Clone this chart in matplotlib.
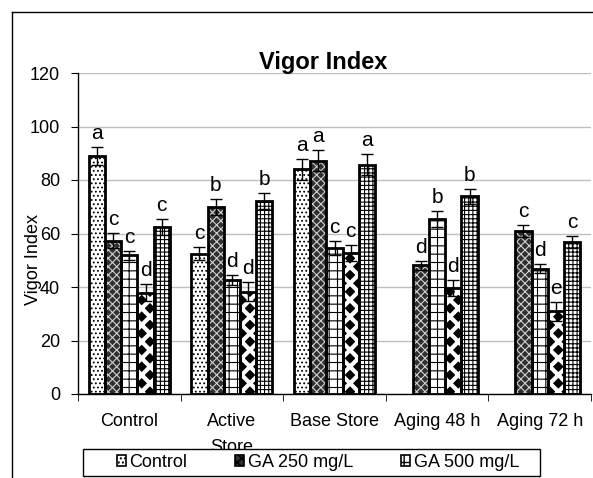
import numpy as np
import matplotlib.pyplot as plt
import matplotlib.patches as mpatches

plt.rcParams['font.family'] = ['Liberation Sans', 'DejaVu Sans']

# groups on the x axis
groups = ['Control', 'Active\nStore', 'Base Store', 'Aging 48 h', 'Aging 72 h']

# series (only the first three appear in the legend)
series_names = ['Control', 'GA 250 mg/L', 'GA 500 mg/L', '_s4', '_s5']

values = [
    [89, 52.5, 84, 0, 0],
    [57.3, 69.8, 87.2, 48.1, 60.9],
    [51.8, 42.7, 54.6, 65.4, 46.9],
    [37.9, 38.2, 52.8, 39.5, 30.9],
    [62.5, 72, 85.7, 73.9, 56.9],
]
errors = [
    [3.4, 2.5, 4, 0, 0],
    [2.8, 3, 4, 1.6, 2.3],
    [1.8, 1.9, 2.5, 2.9, 1.7],
    [3.3, 3.5, 3, 3, 3.6],
    [3, 3, 4, 2.9, 2.3],
]
letters = [
    ['a', 'c', 'a', '', ''],
    ['c', 'b', 'a', 'd', 'c'],
    ['c', 'd', 'c', 'b', 'd'],
    ['d', 'd', 'c', 'd', 'e'],
    ['c', 'b', 'a', 'b', 'c'],
]

# face colour, hatch, hatch colour, hatch linewidth
styles = [
    ('white', '....', 'black', 0.8),
    ('#303030', 'xxxx', '#d0d0d0', 0.8),
    ('white', '++', 'black', 0.8),
    ('black', 'xx', 'white', 3.0),
    ('white', '++++', 'black', 0.8),
]

fig = plt.figure(figsize=(5.93, 4.78), dpi=100)
ax = fig.add_axes([78 / 593, 1 - 394 / 478, 513 / 593, 321 / 478])

# outer chart border (left and top visible)
fig.add_artist(plt.Line2D([12 / 593, 12 / 593], [0, 1 - 12 / 478],
                          transform=fig.transFigure, color='black', lw=1))
fig.add_artist(plt.Line2D([12 / 593, 1], [1 - 12 / 478, 1 - 12 / 478],
                          transform=fig.transFigure, color='black', lw=1))

n = len(values)
x = np.arange(len(groups))
bw = 0.158
offsets = (np.arange(n) - (n - 1) / 2) * bw

handles = []
for i in range(n):
    fc, hatch, hc, hlw = styles[i]
    heights = np.array([v if v > 0 else np.nan for v in values[i]])
    with plt.rc_context({'hatch.linewidth': hlw}):
        bars = ax.bar(x + offsets[i], heights, bw, color=fc, hatch=hatch,
                      edgecolor=hc, linewidth=0, zorder=2)
    for b in bars:
        if hasattr(b, 'set_hatch_linewidth'):
            b.set_hatch_linewidth(hlw)
    ax.bar(x + offsets[i], heights, bw, fill=False, edgecolor='black',
           linewidth=2, zorder=3)
    for j in range(len(groups)):
        if values[i][j] <= 0:
            continue
        ax.errorbar(x[j] + offsets[i], values[i][j], yerr=errors[i][j],
                    color='black', lw=1, capsize=4, capthick=1, zorder=4)
        ax.text(x[j] + offsets[i], values[i][j] + errors[i][j] + 1.5,
                letters[i][j], ha='center', va='bottom', fontsize=15, zorder=5)
    if not series_names[i].startswith('_'):
        with plt.rc_context({'hatch.linewidth': hlw}):
            h = mpatches.Patch(facecolor=fc, hatch=hatch, edgecolor='black',
                               linewidth=1.2, label=series_names[i])
        handles.append(h)

ax.set_ylim(0, 120)
ax.set_xlim(-0.5, len(groups) - 0.5)
ax.set_yticks(np.arange(0, 121, 20))
ax.yaxis.grid(True, color='#c0c0c0', lw=1)
ax.set_axisbelow(True)
for s in ['top', 'right']:
    ax.spines[s].set_visible(False)
ax.spines['left'].set_linewidth(1)
ax.spines['bottom'].set_linewidth(1)

ax.set_xticks(x)
ax.set_xticklabels(groups, fontsize=13, linespacing=1.65)
ax.set_xticks(np.arange(len(groups) + 1) - 0.5, minor=True)
ax.tick_params(axis='x', which='major', length=0, pad=14)
ax.tick_params(axis='x', which='minor', length=5, direction='out')
ax.tick_params(axis='y', labelsize=13, length=5, pad=8)

ax.set_ylabel('Vigor Index', fontsize=13)
ax.yaxis.set_label_coords(-0.07, 0.42)

fig.text(0.545, 1 - 62 / 478, 'Vigor Index', ha='center', va='center',
         fontsize=17, fontweight='bold')

# legend box (white, covers the clipped second line of "Active Store")
box = mpatches.Rectangle((83 / 593, 2 / 478), 457 / 593, 27 / 478,
                         transform=fig.transFigure, facecolor='white',
                         edgecolor='black', lw=1, zorder=9)
fig.add_artist(box)

leg = fig.legend(handles=handles, loc='center left', ncol=3, mode='expand',
                 bbox_to_anchor=(113 / 593, 2 / 478, 410 / 593, 27 / 478),
                 borderaxespad=0, fontsize=13, handlelength=0.5,
                 handleheight=0.6, handletextpad=0.2, frameon=False,
                 borderpad=0.2)
leg.set_zorder(10)

fig.savefig('out.png', dpi=100)
